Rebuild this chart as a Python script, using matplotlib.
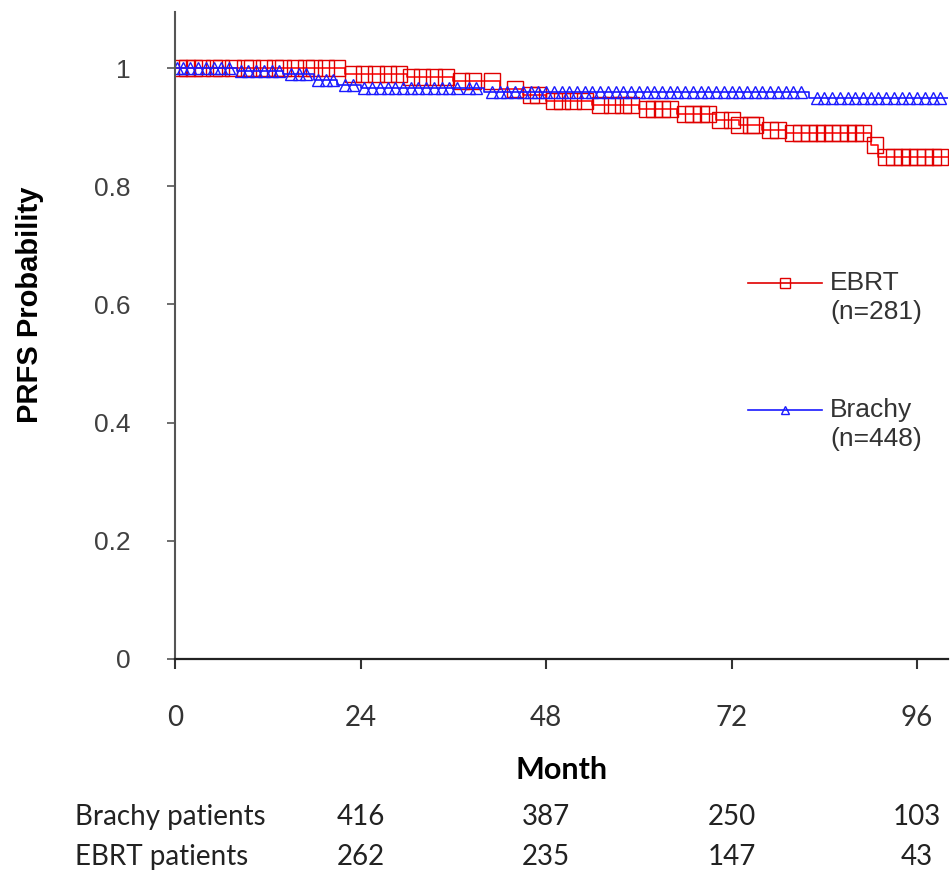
import numpy as np
import matplotlib
matplotlib.use('Agg')
import matplotlib.pyplot as plt
from matplotlib.lines import Line2D
from matplotlib.transforms import blended_transform_factory

# Kaplan-Meier steps (time in months, PRFS probability)
ebrt_t = [0, 22, 30, 36, 42, 45, 48, 54, 60, 65, 70, 73, 76, 79, 90, 91]
ebrt_s = [1.0, 0.99, 0.985, 0.978, 0.965, 0.955, 0.945, 0.938, 0.93, 0.922,
          0.912, 0.903, 0.895, 0.89, 0.87, 0.85]
brachy_t = [0, 8, 14, 18, 21, 24, 40, 82]
brachy_s = [1.0, 0.995, 0.99, 0.98, 0.972, 0.966, 0.96, 0.95]
t_end = 100

# censoring times (markers)
ebrt_censor = [0.5, 1.5, 2.5, 3.5, 5, 6, 7.5, 9, 10, 11.5, 13, 14, 15.5, 17, 18,
               19.5, 21, 23, 24.5, 26, 27.5, 29, 30.5, 32, 33.5, 35, 37, 38.5, 41,
               44, 46, 47, 49, 50, 51.5, 53, 55, 56.5, 58, 59, 61, 62, 63, 64, 66,
               67, 68, 69, 70.5, 72, 73, 74.5, 75, 77, 78, 80, 81, 82, 83, 84, 85,
               86, 87, 88, 89, 90.5, 92, 93, 94, 95, 96, 97, 98, 99]
brachy_censor = [0.3, 1, 2, 3, 4, 5, 6, 7, 8.5, 9.5, 10.5, 11.5, 12.5, 13.5, 15,
                 16, 17, 18.5, 19.5, 20.5, 22, 23, 24.5, 25.5, 26.5, 27.5, 28.5,
                 29.5, 30.5, 31.5, 32.5, 33.5, 34.5, 35.5, 36.5, 38, 39, 41, 42,
                 43, 44, 45, 46, 47, 48, 49, 50, 51, 52, 53, 54, 55, 56, 57, 58, 59,
                 60, 61, 62, 63, 64, 65, 66, 67, 68, 69, 70, 71, 72, 73, 74, 75, 76,
                 77, 78, 79, 80, 81, 83, 84, 85, 86, 87, 88, 89, 90, 91, 92, 93, 94,
                 95, 96, 97, 98, 99]

x_ticks = [0, 24, 48, 72, 96]
brachy_risk = [416, 387, 250, 103]
ebrt_risk = [262, 235, 147, 43]
risk_x = [24, 48, 72, 96]

RED = '#ff1010'
BLUE = '#1a1aff'


def surv_at(times, t_steps, s_steps):
    idx = np.searchsorted(t_steps, times, side='right') - 1
    return np.array(s_steps)[idx]


fig = plt.figure(figsize=(9.53, 8.74), dpi=100)
ax = fig.add_axes([175 / 953, 1 - 659 / 874, (948 - 175) / 953, (659 - 12) / 874])

# EBRT
ax.step(ebrt_t + [t_end], ebrt_s + [ebrt_s[-1]], where='post', color=RED, lw=1.2)
ax.plot(ebrt_censor, surv_at(ebrt_censor, ebrt_t, ebrt_s), ls='none', marker='s',
        ms=11, mfc='none', mec='#e00000', mew=1.0)
# Brachy
ax.step(brachy_t + [t_end], brachy_s + [brachy_s[-1]], where='post', color=BLUE, lw=1.2)
ax.plot(brachy_censor, surv_at(brachy_censor, brachy_t, brachy_s), ls='none', marker='^',
        ms=9, mfc='none', mec=BLUE, mew=1.0)

ax.set_xlim(0, 100)
ax.set_ylim(0, 1.095)
ax.set_xticks(x_ticks)
ax.set_xticklabels([str(v) for v in x_ticks], family='Lato', fontsize=20, color='#333333')
ax.set_yticks([0, 0.2, 0.4, 0.6, 0.8, 1.0])
ax.set_yticklabels(['0', '0.2', '0.4', '0.6', '0.8', '1'], family='Liberation Sans',
                   fontsize=19, color='#404040')
ax.tick_params(axis='x', direction='out', length=7, width=1.5, pad=26, color='#333333')
ax.tick_params(axis='y', direction='out', length=6, width=1.2, pad=26, color='#555555')
for s in ['top', 'right']:
    ax.spines[s].set_visible(False)
ax.spines['left'].set_linewidth(1.5)
ax.spines['left'].set_color('#555555')
ax.spines['bottom'].set_linewidth(1.6)
ax.spines['bottom'].set_color('#222222')

ax.set_xlabel('Month', family='Lato', fontweight='bold', fontsize=22, labelpad=18)
fig.text(30 / 953, 1 - 305 / 874, 'PRFS Probability', rotation=90, ha='center', va='center',
         family='Liberation Sans', fontweight='bold', fontsize=21)

# legend drawn by hand
def leg_item(y_px, color, marker, ms, line1, line2):
    yf = 1 - y_px / 874
    fig.add_artist(Line2D([748 / 953, 822 / 953], [yf, yf], color=color, lw=1.2,
                          transform=fig.transFigure))
    fig.add_artist(Line2D([785 / 953], [yf], color=color, marker=marker, ms=ms,
                          mfc='none', mec=color, mew=1.0, transform=fig.transFigure))
    fig.text(830 / 953, yf, line1, ha='left', va='center', family='Liberation Sans',
             fontsize=19, color='#333333')
    fig.text(830 / 953, yf - 29 / 874, line2, ha='left', va='center',
             family='Liberation Sans', fontsize=19, color='#333333')

leg_item(283, '#e00000', 's', 7, 'EBRT', '(n=281)')
leg_item(410, BLUE, '^', 6, 'Brachy', '(n=448)')

# numbers at risk
tr = blended_transform_factory(ax.transData, fig.transFigure)
fig.text(75 / 953, 1 - 817 / 874, 'Brachy patients', ha='left', va='center',
         family='Lato', fontsize=20, color='#222222')
fig.text(75 / 953, 1 - 857 / 874, 'EBRT patients', ha='left', va='center',
         family='Lato', fontsize=20, color='#222222')
for xv, b, e in zip(risk_x, brachy_risk, ebrt_risk):
    ax.text(xv, 1 - 817 / 874, str(b), transform=tr, ha='center', va='center',
            family='Lato', fontsize=20, color='#222222')
    ax.text(xv, 1 - 857 / 874, str(e), transform=tr, ha='center', va='center',
            family='Lato', fontsize=20, color='#222222')

fig.savefig('out.png', dpi=100)
